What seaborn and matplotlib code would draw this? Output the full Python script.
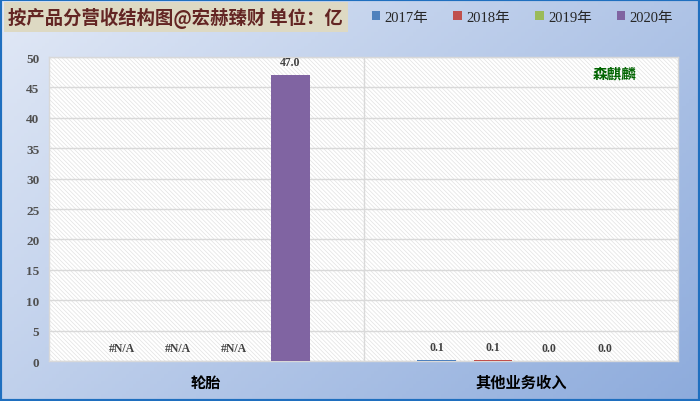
import numpy as np
import pandas as pd
import matplotlib
matplotlib.use("Agg")
import matplotlib.pyplot as plt
import seaborn as sns
from matplotlib.patches import Rectangle, Patch

categories = ["轮胎", "其他业务收入"]
years = ["2017年", "2018年", "2019年", "2020年"]
v2017 = [np.nan, 0.1]
v2018 = [np.nan, 0.1]
v2019 = [np.nan, 0.0]
v2020 = [47.0, 0.0]
colors = ["#4f81bd", "#c0504d", "#9bbb59", "#8064a2"]
yticks = [0, 5, 10, 15, 20, 25, 30, 35, 40, 45, 50]

sns.set_theme(style="white")
plt.rcParams["font.family"] = ["Liberation Serif", "Noto Sans CJK SC"]
plt.rcParams["hatch.color"] = "#e2e2e2"
plt.rcParams["hatch.linewidth"] = 0.5

rows = []
for y, vals in zip(years, [v2017, v2018, v2019, v2020]):
    for c, v in zip(categories, vals):
        rows.append({"cat": c, "year": y, "val": v})
df = pd.DataFrame(rows)
df["plot"] = df["val"].fillna(0)

fig = plt.figure(figsize=(7.0, 4.02), dpi=100)

# gradient background
bg = fig.add_axes([0, 0, 1, 1], zorder=-10)
xx, yy = np.meshgrid(np.linspace(0, 1, 200), np.linspace(0, 1, 120))
t = np.clip(0.6 * xx + 0.4 * yy, 0, 1)
c0 = np.array([0xe2, 0xe9, 0xf6]) / 255
c1 = np.array([0x8d, 0xab, 0xdc]) / 255
img = c0[None, None, :] * (1 - t[..., None]) + c1[None, None, :] * t[..., None]
bg.imshow(img, aspect="auto", extent=[0, 1, 0, 1], origin="upper")
bg.add_patch(Rectangle((0, 0), 1, 1, transform=bg.transAxes, fill=False,
                       edgecolor="#1f6fbf", linewidth=3))
bg.set_axis_off()

ax = fig.add_axes([0.07, 0.0995, 0.8986, 0.7562])
ax.set_facecolor("white")
ax.add_patch(Rectangle((0, 0), 1, 1, transform=ax.transAxes, facecolor="white",
                       hatch="\\" * 8, edgecolor="#e2e2e2", linewidth=0, zorder=0))

sns.barplot(data=df, x="cat", y="plot", hue="year", palette=colors, ax=ax,
            width=0.715, gap=0.32, legend=False, zorder=3, saturation=1,
            edgecolor="none", linewidth=0)

for cont, y in zip(ax.containers, years):
    sub = df[df["year"] == y]
    for bar, v in zip(cont, sub["val"]):
        xc = bar.get_x() + bar.get_width() / 2
        top = bar.get_height()
        lab = "#N/A" if np.isnan(v) else f"{v:.1f}"
        ax.annotate(lab, (xc, top), xytext=(0, 9.5), textcoords="offset points",
                    ha="center", va="center", fontsize=8.5, fontweight="bold",
                    color="#404040", zorder=5)

ax.set_ylim(0, 50)
ax.set_xlim(-0.5, 1.5)
ax.set_yticks(yticks)
ax.yaxis.grid(True, color="#d9d9d9", linewidth=1, zorder=1)
ax.set_axisbelow(True)
ax.axvline(0.5, color="#d9d9d9", linewidth=1, zorder=1)
for s in ax.spines.values():
    s.set_color("#d9d9d9")
    s.set_linewidth(1)
ax.set_xlabel("")
ax.set_ylabel("")
ax.tick_params(axis="y", length=0, pad=7, labelsize=9.5, labelcolor="#505050")
for lbl in ax.get_yticklabels():
    lbl.set_fontweight("bold")
ax.tick_params(axis="x", length=0, pad=9)
ax.set_xticks([0, 1])
ax.set_xticklabels(categories, fontsize=11, fontweight="bold", color="black",
                   family=["Noto Sans CJK SC"])

fig.text(0.012, 0.955, "按产品分营收结构图@宏赫臻财 单位：亿", fontsize=13.2,
         fontweight="bold", color="#632523", va="center", ha="left",
         family=["Noto Sans CJK SC"],
         bbox=dict(boxstyle="square,pad=0.25", facecolor="#ddd9c3", edgecolor="none"))

handles = [Patch(facecolor=c, edgecolor="none") for c in colors]
fig.legend(handles, years, loc="center left", bbox_to_anchor=(0.512, 0.955),
           ncol=4, frameon=False, fontsize=10.5, handlelength=0.6, handleheight=0.6,
           handletextpad=0.3, columnspacing=1.7)

ax.text(0.9, 0.95, "森麒麟", transform=ax.transAxes, fontsize=10.5, fontweight="bold",
        color="#006400", ha="center", va="center", family=["Noto Sans CJK SC"])

fig.savefig("out.png", dpi=100)
